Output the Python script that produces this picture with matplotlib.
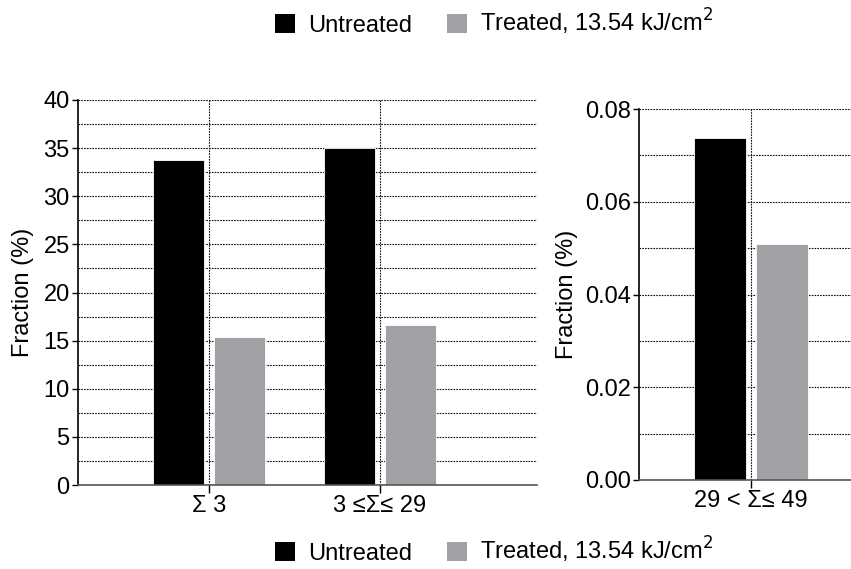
import matplotlib.pyplot as plt
from matplotlib.patches import Patch
from matplotlib.ticker import MultipleLocator

plt.rcParams['font.family'] = ['Liberation Sans', 'DejaVu Sans']
plt.rcParams['font.size'] = 17

# Fraction (%) per size class
groups_main = ['Σ 3', '3 ≤Σ≤ 29']
untreated_main = [33.8, 35.0]
treated_main = [15.35, 16.6]

groups_tail = ['29 < Σ≤ 49']
untreated_tail = [0.0737]
treated_tail = [0.0509]

dark = '#000000'
grey = '#a1a0a5'
width = 0.3
offset = 0.18

fig = plt.figure(figsize=(8.51, 5.69), dpi=100)
ax1 = fig.add_axes([78/851, 1 - 485/569, (537-78)/851, (485-100)/569])
ax2 = fig.add_axes([639/851, 1 - 480/569, (851-639)/851, (480-109)/569])


def style(ax, major, minor):
    ax.set_axisbelow(True)
    ax.yaxis.set_major_locator(MultipleLocator(major))
    ax.yaxis.set_minor_locator(MultipleLocator(minor))
    ax.grid(which='both', axis='y', linestyle=(0, (1.5, 1)), color='#111111', linewidth=0.8)
    ax.grid(which='major', axis='x', linestyle=(0, (1.5, 1)), color='#111111', linewidth=0.8)
    for s in ['top', 'right']:
        ax.spines[s].set_visible(False)
    ax.spines['left'].set_linewidth(1.2)
    ax.spines['bottom'].set_linewidth(1.2)
    ax.spines['bottom'].set_color('#555555')
    ax.tick_params(axis='y', which='major', length=4, width=1, pad=2)
    ax.tick_params(axis='y', which='minor', length=0)
    ax.tick_params(axis='x', length=6, width=1, pad=1)
    ax.set_ylabel('Fraction (%)')


x1 = range(len(groups_main))
ax1.bar([i - offset for i in x1], untreated_main, width, color=dark, edgecolor='white', linewidth=0.6)
ax1.bar([i + offset for i in x1], treated_main, width, color=grey, edgecolor='white', linewidth=0.6)
ax1.set_xticks(list(x1))
ax1.set_xticklabels(groups_main)
ax1.set_xlim(-0.766, 1.918)
ax1.set_ylim(0, 40)
style(ax1, 5, 2.5)
ax1.yaxis.set_label_coords(-0.095, 0.5)

x2 = range(len(groups_tail))
ax2.bar([i - offset for i in x2], untreated_tail, width, color=dark, edgecolor='white', linewidth=0.6)
ax2.bar([i + offset for i in x2], treated_tail, width, color=grey, edgecolor='white', linewidth=0.6)
ax2.set_xticks(list(x2))
ax2.set_xticklabels(groups_tail)
ax2.set_xlim(-0.65, 0.58)
ax2.set_ylim(0, 0.08)
style(ax2, 0.02, 0.01)
ax2.yaxis.set_major_formatter(lambda v, p: f'{v:.2f}')
ax2.yaxis.set_label_coords(-0.29, 0.5)

handles = [Patch(facecolor=dark, label='Untreated'),
           Patch(facecolor=grey, label='Treated, 13.54 kJ/cm$^2$')]
for ypos in [1 - 22/569, 1 - 550/569]:
    fig.legend(handles=handles, loc='center', bbox_to_anchor=(494/851, ypos), ncol=2,
               frameon=False, handlelength=0.85, handleheight=0.85, handletextpad=0.55,
               columnspacing=1.45, fontsize=17)

fig.savefig('out.png', dpi=100)
